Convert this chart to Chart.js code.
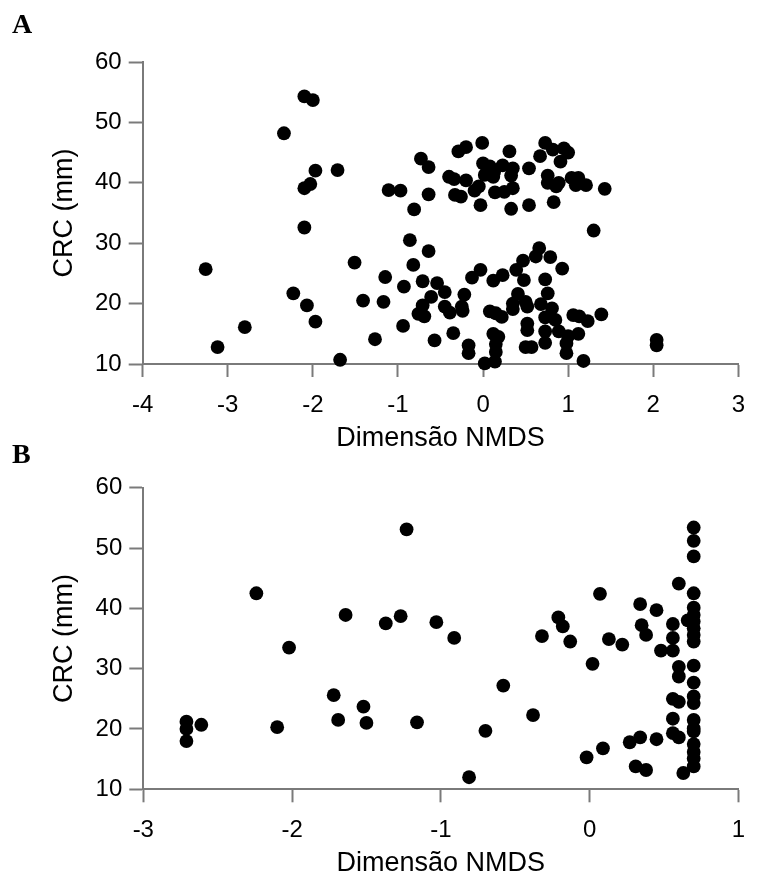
<!DOCTYPE html>
<html>
<head>
<meta charset="utf-8">
<script src="https://cdn.jsdelivr.net/npm/chart.js@4.4.1/dist/chart.umd.min.js"></script>
<style>
  html, body { margin: 0; padding: 0; background: #fff; }
  #page { position: relative; width: 759px; height: 882px; overflow: hidden; }
  canvas { position: absolute; left: 0; }
  .tag { position: absolute; left: 12px; font: bold 28px "Liberation Serif", "Times New Roman", serif; line-height: 28px; color: #000; }
</style>
</head>
<body>
<div id="page">
  <canvas id="chartA" width="759" height="460" style="top:0"></canvas>
  <canvas id="chartB" width="759" height="442" style="top:440px"></canvas>
  <div class="tag" style="top:10px">A</div>
  <div class="tag" style="top:440px">B</div>
</div>
<script>
// panel A: CRC vs NMDS dimension
const aX = [
  -3.26, -3.12, -2.80, -2.34, -2.10, -2.00, -1.97, -1.71, -2.10, -2.03, -2.10, -2.23, -2.07, -1.97, -1.68,
  -1.51, -1.41, -1.27, -1.15, -1.17, -1.11, -0.97, -0.93, -0.94,
  // upper group
  -0.73, -0.64, -0.64, -0.81, -0.40, -0.34, -0.20, -0.29, -0.20, -0.01, -0.33, -0.26, -0.10, -0.05, -0.03,
  0.00, 0.08, 0.02, 0.13, 0.12, 0.23, 0.31, 0.35, 0.33, 0.14, 0.25, 0.35, 0.33, 0.54, 0.54,
  0.67, 0.73, 0.82, 0.95, 1.00, 0.91, 0.76, 0.76, 0.89, 0.86, 1.04, 1.12, 1.09, 1.21, 1.43, 0.83, 1.30,
  // lower group
  -0.86, -0.64, -0.82, -0.71, -0.54, -0.45, -0.61, -0.22, -0.13, -0.03, 0.12, 0.23, 0.39, 0.47, 0.48,
  0.62, 0.66, 0.79, 0.93, 0.73, 0.76, -0.71, -0.76, -0.69, -0.45, -0.39, -0.25, -0.24, -0.57, -0.35,
  -0.17, -0.17, 0.08, 0.15, 0.22, 0.12, 0.18, 0.15, 0.15, 0.14, 0.02, 0.35, 0.41, 0.35, 0.50,
  0.52, 0.52, 0.52, 0.50, 0.57, 0.68, 0.81, 0.73, 0.85, 0.73, 0.73, 0.89, 1.00, 1.12, 0.98,
  0.98, 1.18, 1.06, 1.13, 1.23, 1.39, 2.04, 2.04
];
const aY = [
  25.7, 12.8, 16.1, 48.2, 54.3, 53.7, 42.0, 42.1, 39.1, 39.8, 32.6, 21.7, 19.7, 17.0, 10.7,
  26.8, 20.5, 14.1, 24.4, 20.3, 38.8, 38.7, 22.8, 16.3,
  44.0, 42.6, 38.1, 35.6, 41.0, 40.6, 40.4, 45.2, 45.9, 46.6, 38.0, 37.7, 38.7, 39.4, 36.3,
  43.2, 42.7, 41.3, 41.8, 41.0, 42.9, 45.2, 42.4, 41.2, 38.4, 38.5, 39.1, 35.7, 42.4, 36.3,
  44.4, 46.6, 45.5, 45.7, 45.0, 43.5, 41.2, 40.0, 40.0, 39.4, 40.8, 40.8, 39.6, 39.6, 39.0, 36.8, 32.1,
  30.5, 28.7, 26.4, 23.7, 23.4, 21.9, 21.1, 21.5, 24.3, 25.6, 23.8, 24.7, 25.6, 27.1, 23.9,
  27.8, 29.2, 27.7, 25.8, 24.0, 21.7, 19.7, 18.3, 17.9, 19.5, 18.5, 19.5, 18.8, 13.9, 15.1,
  13.1, 11.8, 18.7, 18.4, 17.8, 15.0, 14.5, 13.3, 12.0, 10.4, 10.1, 20.0, 21.6, 19.1, 20.3,
  19.5, 16.7, 15.6, 12.8, 12.8, 19.9, 19.2, 17.7, 17.3, 15.4, 13.5, 15.4, 14.6, 15.0, 13.4,
  11.8, 10.5, 18.1, 17.9, 17.1, 18.2, 14.0, 13.1
];

// panel B
const bX = [
  -2.71, -2.71, -2.71, -2.61, -2.24, -2.10, -2.02, -1.72, -1.69, -1.64, -1.52, -1.50, -1.37, -1.27, -1.23, -1.16,
  -1.03, -0.91, -0.81, -0.70, -0.58, -0.38, -0.32, -0.21, -0.18, -0.13, -0.02, 0.02, 0.07, 0.09,
  0.13, 0.22, 0.27, 0.34, 0.31, 0.38, 0.34, 0.35, 0.38, 0.45, 0.45, 0.48, 0.56, 0.56, 0.56,
  0.60, 0.60, 0.60, 0.56, 0.60, 0.56, 0.56, 0.60, 0.63, 0.66,
  0.70, 0.70, 0.70, 0.70, 0.70, 0.70, 0.70, 0.70, 0.70, 0.70, 0.70,
  0.70, 0.70, 0.70, 0.70, 0.70, 0.70, 0.70, 0.70, 0.70, 0.70
];
const bY = [
  21.2, 20.0, 18.0, 20.7, 42.5, 20.3, 33.5, 25.6, 21.5, 38.9, 23.7, 21.0, 37.5, 38.7, 53.1, 21.1,
  37.7, 35.1, 12.0, 19.7, 27.2, 22.3, 35.4, 38.5, 37.0, 34.5, 15.3, 30.8, 42.4, 16.8,
  34.9, 34.0, 17.8, 18.6, 13.8, 13.2, 40.7, 37.2, 35.6, 39.7, 18.3, 33.0, 37.4, 35.1, 33.0,
  44.1, 30.3, 28.7, 25.0, 24.5, 21.7, 19.3, 18.6, 12.7, 38.0,
  53.4, 51.2, 48.6, 42.5, 40.1, 38.9, 37.8, 36.7, 35.6, 34.5, 30.5,
  27.7, 25.4, 24.3, 21.5, 20.1, 19.6, 17.5, 16.2, 15.1, 13.8
];

const aXTicks = [-4, -3, -2, -1, 0, 1, 2, 3];
const bXTicks = [-3, -2, -1, 0, 1];
const yTicks = [10, 20, 30, 40, 50, 60];

const axisGray = '#7a7a7a';
const sans = '"Liberation Sans", Arial, sans-serif';

function makePanel(id, xs, ys, xTicks, box) {
  const pts = xs.map((x, i) => ({ x: x, y: ys[i] }));
  return new Chart(document.getElementById(id), {
    type: 'scatter',
    data: {
      datasets: [{
        data: pts,
        backgroundColor: '#000',
        borderColor: '#000',
        borderWidth: 0,
        pointRadius: 6.9,
        pointHoverRadius: 6.9,
        clip: false
      }]
    },
    options: {
      responsive: false,
      animation: false,
      events: [],
      layout: { padding: { left: 0, right: box.right, top: box.top, bottom: 0 } },
      plugins: { legend: { display: false }, tooltip: { enabled: false } },
      scales: {
        x: {
          type: 'linear',
          min: xTicks[0],
          max: xTicks[xTicks.length - 1],
          afterBuildTicks: s => { s.ticks = xTicks.map(v => ({ value: v })); },
          afterFit: s => { s.height = box.xh; },
          grid: { drawOnChartArea: false, tickLength: 13, tickColor: axisGray, tickWidth: 2 },
          border: { color: axisGray, width: 2 },
          ticks: { color: '#000', font: { family: sans, size: 24 }, padding: 14, maxRotation: 0, autoSkip: false },
          title: { display: true, text: 'Dimensão NMDS', color: '#000', font: { family: sans, size: 27 }, padding: { top: 0, bottom: box.tb } }
        },
        y: {
          type: 'linear',
          min: yTicks[0],
          max: yTicks[yTicks.length - 1],
          afterBuildTicks: s => { s.ticks = yTicks.map(v => ({ value: v })); },
          afterFit: s => { s.width = box.left; },
          grid: { drawOnChartArea: false, tickLength: 14, tickColor: axisGray, tickWidth: 2 },
          border: { color: axisGray, width: 2 },
          ticks: { color: '#000', font: { family: sans, size: 24 }, padding: 7 },
          title: { display: true, text: 'CRC (mm)', color: '#000', font: { family: sans, size: 27 }, padding: { top: 48, bottom: 0 } }
        }
      }
    }
  });
}

makePanel('chartA', aX, aY, aXTicks, { left: 142.7, right: 12, top: 62, xh: 96, tb: 5 });
makePanel('chartB', bX, bY, bXTicks, { left: 143.3, right: 12, top: 47.7, xh: 92.7, tb: 2 });
</script>
</body>
</html>
